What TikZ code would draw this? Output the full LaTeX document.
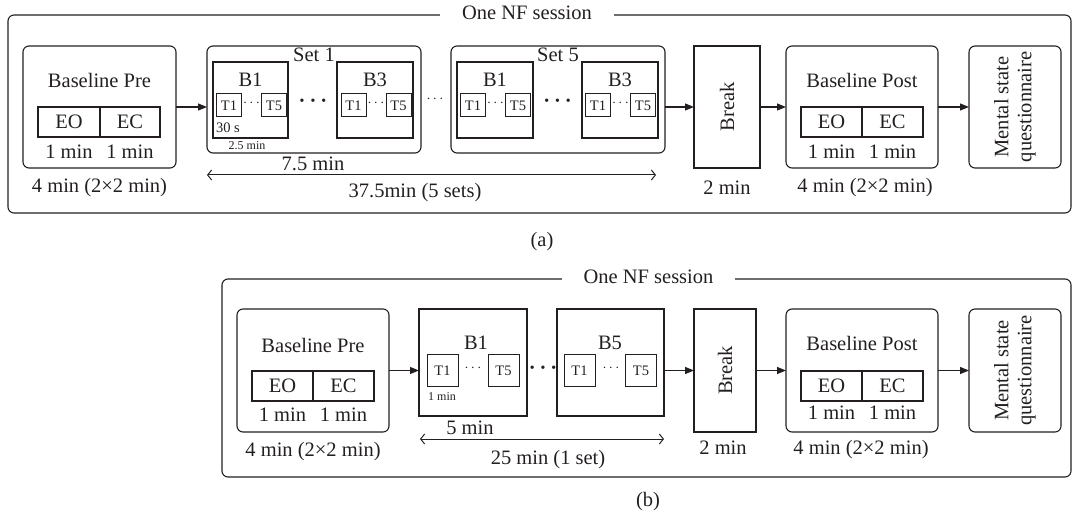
\documentclass[tikz,border=0pt]{standalone}
\usepackage{fontspec}
\setmainfont{Liberation Serif}
\usetikzlibrary{arrows.meta}
\definecolor{ink}{HTML}{231F20}
\newcommand{\mainfs}{\fontsize{20.5}{23}\selectfont}
\newcommand{\tfs}{\fontsize{14.5}{16}\selectfont}
\newcommand{\tinyfs}{\fontsize{12}{14}\selectfont}
\begin{document}
\begin{tikzpicture}[x=1pt,y=-1pt,
  every node/.style={inner sep=0pt, outer sep=0pt, text=ink, font=\mainfs},
  box/.style={draw=ink, line width=1.1pt},
  rbox/.style={box, rounded corners=6pt},
  tbox/.style={box, line width=1pt, font=\tfs},
  flow/.style={draw=ink, line width=1.1pt, -{Triangle[length=9pt,width=7pt]}},
  dim/.style={draw=ink, line width=1pt, {Straight Barb[length=4pt,width=10pt]}-{Straight Barb[length=4pt,width=10pt]}},
  ttl/.style={fill=white, inner xsep=22pt, inner ysep=2pt},
  small/.style={font=\tfs},
  tiny/.style={font=\tinyfs},
  bdots/.style={font=\mainfs\bfseries},
]
\useasboundingbox (0,0) rectangle (1073,518);

% ================= (a) =================
\node[rbox, minimum width=1063pt, minimum height=198pt] (outA) at (539.5,114) {};
\node[ttl] (ttlA) at (527,13) {One NF session};

% Baseline pre
\node[rbox, minimum width=153pt, minimum height=122pt] (bpreA) at (99.5,107) {};
\node (bpreAt) at (99.5,80) {Baseline Pre};
\node[box, minimum width=62pt, minimum height=30pt] (eoA) at (69,122) {EO};
\node[box, minimum width=60pt, minimum height=30pt] (ecA) at (130,122) {EC};
\node (eoAm) at (69,152) {1 min};
\node (ecAm) at (130,152) {1 min};
\node (bpreAd) at (99.5,188) {4 min (2×2 min)};

% Set 1
\node[rbox, minimum width=214pt, minimum height=107pt] (set1) at (314,99.5) {};
\node (set1t) at (314,55) {Set 1};
\node[box, minimum width=75pt, minimum height=76pt] (s1b1) at (250.5,100) {};
\node (s1b1t) at (250.5,80) {B1};
\node[tbox, minimum width=25pt, minimum height=23pt] (s1b1a) at (229,105.5) {T1};
\node[tbox, minimum width=25pt, minimum height=23pt] (s1b1b) at (274,105.5) {T5};
\node[small] (s1b1d) at (251.5,103) {$\cdots$};
\node[small] (s1b1s) at (228,128) {30 s};
\node[tiny] (s1b1m) at (247,146) {2.5 min};
\node[bdots] (s1dd) at (313,103) {·\hspace{4pt}·\hspace{4pt}·};
\node[box, minimum width=76pt, minimum height=76pt] (s1b3) at (375,100) {};
\node (s1b3t) at (375,80) {B3};
\node[tbox, minimum width=25pt, minimum height=23pt] (s1b3a) at (353.5,105.5) {T1};
\node[tbox, minimum width=25pt, minimum height=23pt] (s1b3b) at (398.5,105.5) {T5};
\node[small] (s1b3d) at (376,103) {$\cdots$};

\node[small] (setdots) at (435,99) {$\cdots$};

% Set 5
\node[rbox, minimum width=214pt, minimum height=107pt] (set5) at (558,99.5) {};
\node (set5t) at (558,55) {Set 5};
\node[box, minimum width=76pt, minimum height=76pt] (s5b1) at (495,100) {};
\node (s5b1t) at (495,80) {B1};
\node[tbox, minimum width=25pt, minimum height=23pt] (s5b1a) at (473,105.5) {T1};
\node[tbox, minimum width=25pt, minimum height=23pt] (s5b1b) at (518,105.5) {T5};
\node[small] (s5b1d) at (495.5,103) {$\cdots$};
\node[bdots] (s5dd) at (557.5,103) {·\hspace{4pt}·\hspace{4pt}·};
\node[box, minimum width=76pt, minimum height=76pt] (s5b3) at (620,100) {};
\node (s5b3t) at (620,80) {B3};
\node[tbox, minimum width=25pt, minimum height=23pt] (s5b3a) at (598,105.5) {T1};
\node[tbox, minimum width=25pt, minimum height=23pt] (s5b3b) at (643,105.5) {T5};
\node[small] (s5b3d) at (620.5,103) {$\cdots$};

% durations
\coordinate (dAl) at (207,175);
\coordinate (dAr) at (656,175);
\draw[dim] (dAl) -- (dAr);
\node (d75) at (313,164) {7.5 min};
\node (d375) at (415,193) {37.5min (5 sets)};

% Break
\node[box, minimum width=66pt, minimum height=122pt] (brA) at (727,107) {};
\node[rotate=90] (brAt) at (727,107) {Break};
\node (brAd) at (727,188) {2 min};

% Baseline post
\node[rbox, minimum width=152pt, minimum height=122pt] (bpoA) at (862,107) {};
\node (bpoAt) at (862,80) {Baseline Post};
\node[box, minimum width=61pt, minimum height=30pt] (eoA2) at (831.5,122) {EO};
\node[box, minimum width=61pt, minimum height=30pt] (ecA2) at (892.5,122) {EC};
\node (eoA2m) at (831.5,152) {1 min};
\node (ecA2m) at (892.5,152) {1 min};
\node (bpoAd) at (865,188) {4 min (2×2 min)};

% Mental state
\node[rbox, minimum width=92pt, minimum height=122pt] (msA) at (1015,107) {};
\node[rotate=90, align=center] (msAt) at (1015,107) {Mental state\\questionnaire};

% flow arrows (a)
\draw[flow] (bpreA.east) -- (bpreA.east -| set1.west);
\draw[flow] (set5.east |- brA.west) -- (brA.west);
\draw[flow] (brA.east) -- (bpoA.west);
\draw[flow] (bpoA.east) -- (msA.west);

\node (capA) at (542,242) {(a)};

% ================= (b) =================
\node[rbox, minimum width=849pt, minimum height=198pt] (outB) at (646.5,378) {};
\node[ttl] (ttlB) at (648.5,277) {One NF session};

\node[rbox, minimum width=152pt, minimum height=123pt] (bpreB) at (313,370.5) {};
\node (bpreBt) at (313,345) {Baseline Pre};
\node[box, minimum width=61pt, minimum height=30pt] (eoB) at (282.5,386) {EO};
\node[box, minimum width=61pt, minimum height=30pt] (ecB) at (343.5,386) {EC};
\node (eoBm) at (282.5,415) {1 min};
\node (ecBm) at (343.5,415) {1 min};
\node (bpreBd) at (313,452) {4 min (2×2 min)};

\node[box, minimum width=108pt, minimum height=107pt] (b1B) at (473,362.5) {};
\node (b1Bt) at (476,343) {B1};
\node[tbox, minimum width=31pt, minimum height=31pt] (b1Ba) at (442.5,370.5) {T1};
\node[tbox, minimum width=31pt, minimum height=31pt] (b1Bb) at (503.5,370.5) {T5};
\node[small] (b1Bd) at (473,368) {$\cdots$};
\node[tiny] (b1Bm) at (442,397) {1 min};
\node[bdots] (bBdd) at (543,370) {·\hspace{4pt}·\hspace{4pt}·};
\node[box, minimum width=107pt, minimum height=107pt] (b5B) at (610.5,362.5) {};
\node (b5Bt) at (610,343) {B5};
\node[tbox, minimum width=31pt, minimum height=31pt] (b5Ba) at (579.5,370.5) {T1};
\node[tbox, minimum width=31pt, minimum height=31pt] (b5Bb) at (641,370.5) {T5};
\node[small] (b5Bd) at (611,368) {$\cdots$};

\coordinate (dBl) at (420,439);
\coordinate (dBr) at (664,439);
\draw[dim] (dBl) -- (dBr);
\node (d5) at (470,428) {5 min};
\node (d25) at (548,460) {25 min (1 set)};

\node[box, minimum width=62pt, minimum height=123pt] (brB) at (725,370.5) {};
\node[rotate=90] (brBt) at (725,370.5) {Break};
\node (brBd) at (723,448) {2 min};

\node[rbox, minimum width=152pt, minimum height=123pt] (bpoB) at (862,370.5) {};
\node (bpoBt) at (862,343) {Baseline Post};
\node[box, minimum width=61pt, minimum height=30pt] (eoB2) at (831.5,386) {EO};
\node[box, minimum width=61pt, minimum height=30pt] (ecB2) at (892.5,386) {EC};
\node (eoB2m) at (831.5,413) {1 min};
\node (ecB2m) at (892.5,413) {1 min};
\node (bpoBd) at (861,450) {4 min (2×2 min)};

\node[rbox, minimum width=92pt, minimum height=123pt] (msB) at (1015,370.5) {};
\node[rotate=90, align=center] (msBt) at (1015,370.5) {Mental state\\questionnaire};

\draw[flow] (bpreB.east) -- (b1B.west |- bpreB.east);
\draw[flow] (b5B.east |- brB.west) -- (brB.west);
\draw[flow] (brB.east) -- (bpoB.west);
\draw[flow] (bpoB.east) -- (msB.west);

\node (capB) at (648,502) {(b)};
\end{tikzpicture}
\end{document}
